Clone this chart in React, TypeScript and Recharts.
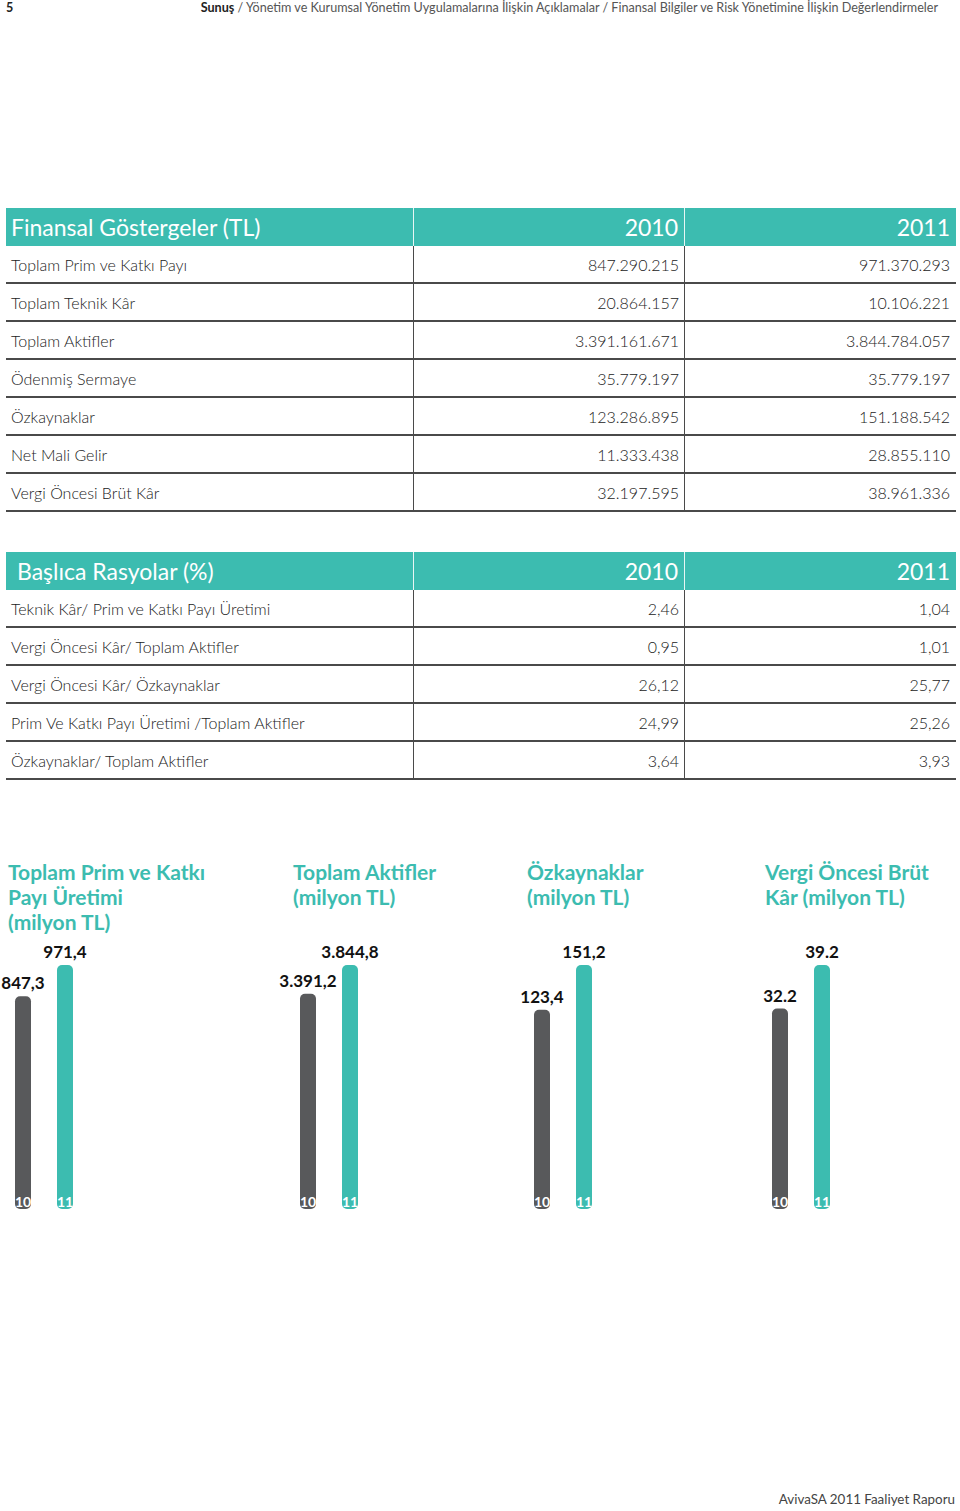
import { BarChart, Bar, XAxis, YAxis, Cell, LabelList } from 'recharts'

const GRAY = '#58595b'
const TEAL = '#3cbcb0'
const LINE = '#4a4a4a'
const FONT = 'Lato, "Open Sans", sans-serif'

// table data
const finansalLabels = [
  'Toplam Prim ve Katkı Payı',
  'Toplam Teknik Kâr',
  'Toplam Aktifler',
  'Ödenmiş Sermaye',
  'Özkaynaklar',
  'Net Mali Gelir',
  'Vergi Öncesi Brüt Kâr',
]
const finansal2010 = ['847.290.215', '20.864.157', '3.391.161.671', '35.779.197', '123.286.895', '11.333.438', '32.197.595']
const finansal2011 = ['971.370.293', '10.106.221', '3.844.784.057', '35.779.197', '151.188.542', '28.855.110', '38.961.336']

const rasyoLabels = [
  'Teknik Kâr/ Prim ve Katkı Payı Üretimi',
  'Vergi Öncesi Kâr/ Toplam Aktifler',
  'Vergi Öncesi Kâr/ Özkaynaklar',
  'Prim Ve Katkı Payı Üretimi /Toplam Aktifler',
  'Özkaynaklar/ Toplam Aktifler',
]
const rasyo2010 = ['2,46', '0,95', '26,12', '24,99', '3,64']
const rasyo2011 = ['1,04', '1,01', '25,77', '25,26', '3,93']

// chart data
const years = ['10', '11']
const primValues = [847.3, 971.4]
const primLabels = ['847,3', '971,4']
const aktifValues = [3391.2, 3844.8]
const aktifLabels = ['3.391,2', '3.844,8']
const ozkaynakValues = [123.4, 151.2]
const ozkaynakLabels = ['123,4', '151,2']
const vergiValues = [32.2, 39.2]
const vergiLabels = ['32.2', '39.2']

const toData = (values: number[], labels: string[]) =>
  years.map((year, i) => ({ year, value: values[i], label: labels[i] }))

const Table = ({ top, title, titleX, labels, col2010, col2011 }: {
  top: number; title: string; titleX: number; labels: string[]; col2010: string[]; col2011: string[]
}) => (
  <div style={{ position: 'absolute', left: 6, top, width: 950, fontFamily: FONT }}>
    <div style={{ height: 38, background: TEAL, color: '#fff', position: 'relative', fontSize: 23 }}>
      <span style={{ position: 'absolute', left: titleX, top: 5 }}>{title}</span>
      <div style={{ position: 'absolute', left: 407, top: 0, width: 1, height: 38, background: '#e8f6f4' }} />
      <div style={{ position: 'absolute', left: 678, top: 0, width: 1, height: 38, background: '#e8f6f4' }} />
      <span style={{ position: 'absolute', right: 278, top: 5 }}>2010</span>
      <span style={{ position: 'absolute', right: 6, top: 5 }}>2011</span>
    </div>
    {labels.map((l, i) => (
      <div key={l} style={{ height: 36, borderBottom: `2px solid ${LINE}`, position: 'relative', color: '#222', fontSize: 16, fontWeight: 300 }}>
        <span style={{ position: 'absolute', left: 5, top: 9 }}>{l}</span>
        <div style={{ position: 'absolute', left: 407, top: 0, width: 1, height: 38, background: LINE }} />
        <div style={{ position: 'absolute', left: 678, top: 0, width: 1, height: 38, background: LINE }} />
        <span style={{ position: 'absolute', right: 277, top: 9 }}>{col2010[i]}</span>
        <span style={{ position: 'absolute', right: 6, top: 9 }}>{col2011[i]}</span>
      </div>
    ))}
  </div>
)

const MiniBar = ({ left, titleX, title, values, labels }: {
  left: number; titleX: number; title: string[]; values: number[]; labels: string[]
}) => (
  <>
    <div style={{ position: 'absolute', left: titleX, top: 859, color: TEAL, fontFamily: FONT, fontWeight: 700, fontSize: 21, lineHeight: '25px' }}>
      {title.map(t => <div key={t}>{t}</div>)}
    </div>
    <div style={{ position: 'absolute', left, top: 925 }}>
      <BarChart width={124} height={294} data={toData(values, labels)} margin={{ top: 40, right: 20, bottom: 10, left: 20 }}>
        <XAxis dataKey="year" hide />
        <YAxis hide domain={[0, 'dataMax']} />
        <Bar dataKey="value" barSize={16} radius={[5, 5, 5, 5]} isAnimationActive={false}>
          {years.map((y, i) => <Cell key={y} fill={i === 0 ? GRAY : TEAL} />)}
          <LabelList dataKey="label" position="top" offset={7} fill="#111" fontSize={17} fontWeight={700} fontFamily={FONT} />
          <LabelList dataKey="year" position="insideBottom" offset={2} fill="#fff" fontSize={14} fontWeight={700} fontFamily={FONT} />
        </Bar>
      </BarChart>
    </div>
  </>
)

export default function App() {
  return (
    <div style={{ position: 'absolute', left: 0, top: 0, width: 960, height: 1511, background: '#fff', fontFamily: FONT, overflow: 'hidden' }}>
      <div style={{ position: 'absolute', left: 6, top: 0, fontSize: 12.5, fontWeight: 700, color: '#222' }}>5</div>
      <div style={{ position: 'absolute', right: 22, top: 0, fontSize: 12.6, color: '#555', whiteSpace: 'nowrap' }}>
        <b style={{ color: '#222' }}>Sunuş</b> / Yönetim ve Kurumsal Yönetim Uygulamalarına İlişkin Açıklamalar / Finansal Bilgiler ve Risk Yönetimine İlişkin Değerlendirmeler
      </div>

      <Table top={208} title="Finansal Göstergeler (TL)" titleX={5} labels={finansalLabels} col2010={finansal2010} col2011={finansal2011} />
      <Table top={552} title="Başlıca Rasyolar (%)" titleX={11} labels={rasyoLabels} col2010={rasyo2010} col2011={rasyo2011} />

      <MiniBar left={-18} titleX={8} title={['Toplam Prim ve Katkı', 'Payı Üretimi', '(milyon TL)']} values={primValues} labels={primLabels} />
      <MiniBar left={267} titleX={293} title={['Toplam Aktifler', '(milyon TL)']} values={aktifValues} labels={aktifLabels} />
      <MiniBar left={501} titleX={527} title={['Özkaynaklar', '(milyon TL)']} values={ozkaynakValues} labels={ozkaynakLabels} />
      <MiniBar left={739} titleX={765} title={['Vergi Öncesi Brüt', 'Kâr (milyon TL)']} values={vergiValues} labels={vergiLabels} />

      <div style={{ position: 'absolute', right: 5, top: 1491, fontSize: 13.4, color: '#444' }}>AvivaSA 2011 Faaliyet Raporu</div>
    </div>
  )
}
